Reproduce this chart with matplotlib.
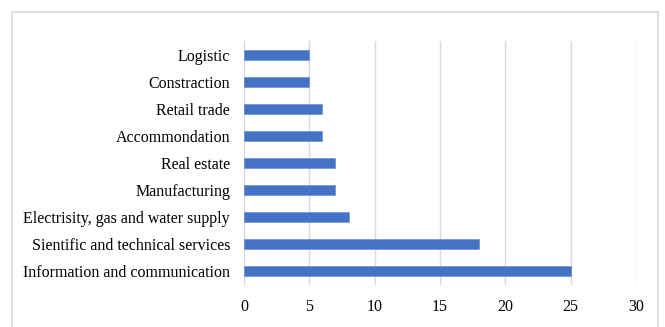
import matplotlib
matplotlib.use("Agg")
import matplotlib.pyplot as plt
from matplotlib.patches import Rectangle

categories = ["Information and communication", "Sientific and technical services",
              "Electrisity, gas and water supply", "Manufacturing", "Real estate",
              "Accommondation", "Retail trade", "Constraction", "Logistic"]
values = [25, 18, 8, 7, 7, 6, 6, 5, 5]
xticks = [0, 5, 10, 15, 20, 25, 30]

plt.rcParams['font.family'] = ['Liberation Serif', 'DejaVu Serif']

fig = plt.figure(figsize=(6.65, 3.27), dpi=100)
fig.patches.append(Rectangle((12/665, -0.05), (658-12)/665, 1 - 12/327 + 0.05,
                             transform=fig.transFigure, fill=False,
                             edgecolor='#D9D9D9', linewidth=1.2))
ax = fig.add_axes([244/665, 1-285/327, (636-244)/665, (285-41)/327])
ax.barh(range(len(categories)), values, height=0.37, color='#4472C4',
        edgecolor='#6A8FD0', linewidth=0.5, zorder=3)
ax.set_xlim(0, 30)
ax.set_ylim(-0.5, len(categories) - 0.5)
ax.set_xticks(xticks)
ax.set_xticklabels([str(t) for t in xticks])
ax.set_yticks(range(len(categories)))
ax.set_yticklabels(categories)
ax.grid(axis='x', color='#D9D9D9', linewidth=1, zorder=0)
for s in ax.spines.values():
    s.set_visible(False)
ax.tick_params(axis='both', length=0, labelsize=11.5, colors='#000000')
ax.tick_params(axis='x', pad=10)
ax.tick_params(axis='y', pad=10)
fig.savefig("out.png", dpi=100)
